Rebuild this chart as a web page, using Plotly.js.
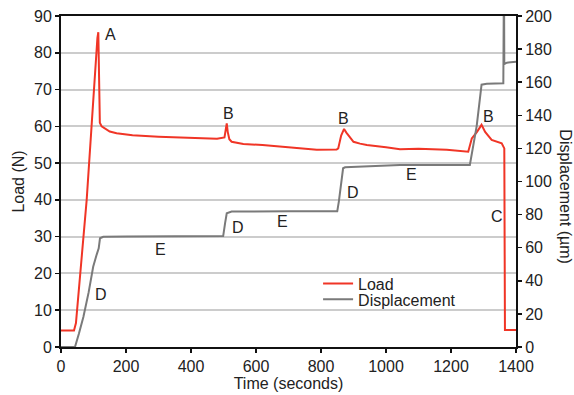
<!DOCTYPE html>
<html>
<head>
<meta charset="utf-8">
<script src="https://cdn.plot.ly/plotly-3.0.1.min.js"></script>
<style>html,body{margin:0;padding:0;background:#fff;}#chart{width:574px;height:395px;}</style>
</head>
<body>
<div id="chart"></div>
<script>
// Load (N) vs time (s)
var loadTime = [0, 40, 46, 79, 94, 101.5, 107.7, 112, 114.8, 117, 119.5, 125, 135, 150, 171, 220, 300, 400, 480, 503, 507, 510, 513, 518, 525, 561, 620, 674, 730, 787, 848, 853, 862, 871, 878, 890, 900, 920, 941, 1000, 1043, 1100, 1187, 1253, 1264, 1280, 1294, 1305, 1325, 1356, 1364, 1366, 1400];
var loadVal  = [4.5, 4.5, 6.5, 40, 60, 70, 80, 84, 85.6, 75, 61, 60, 59.4, 58.6, 58.1, 57.6, 57.2, 56.8, 56.6, 57.0, 59, 60.8, 58.5, 56.5, 55.8, 55.2, 54.9, 54.5, 54.1, 53.6, 53.7, 54.0, 57.5, 59.3, 58.3, 57, 55.8, 55.3, 54.9, 54.3, 53.8, 53.9, 53.6, 53.1, 56.7, 58.5, 60.4, 58.5, 56.3, 55.4, 54, 4.6, 4.6];

// Displacement (µm) vs time (s)
var dispTime = [0, 43, 55, 69, 85, 99, 110, 116, 120, 130, 200, 300, 400, 499, 505, 510, 525, 600, 700, 800, 850, 855, 862, 868, 874, 950, 1043, 1150, 1258, 1279, 1294, 1310, 1361, 1363, 1364, 1372, 1400];
var dispVal  = [0, 0, 8, 18.3, 33, 48.5, 56, 59.6, 65.7, 66.6, 66.8, 66.8, 67, 67, 75, 80.8, 81.8, 82, 82, 82, 82, 88, 99, 108, 108.6, 109.2, 110, 110, 110, 133.5, 158.5, 159, 159.3, 230, 171, 171.8, 172.4];

// Annotation labels
var labelText = ["A", "B", "B", "B", "C", "D", "E", "D", "E", "D", "E"];
var labelX    = [151, 514, 868, 1314, 1342, 123, 305, 545, 680, 898, 1077];
var labelY    = [85.1, 63.6, 62, 62.8, 35.6, 14.4, 26.4, 32.6, 34, 42.1, 46.8];

var FAM = "Liberation Sans, Arial, sans-serif";
var font = {family: FAM, size: 16, color: "#222"};

var traces = [
  {x: loadTime, y: loadVal, name: "Load", type: "scatter", mode: "lines",
   line: {color: "#f03526", width: 2}, yaxis: "y", legend: "legend"},
  {x: dispTime, y: dispVal, name: "Displacement", type: "scatter", mode: "lines",
   line: {color: "#7a7a7a", width: 2}, yaxis: "y2", legend: "legend2"}
];

var annotations = labelText.map(function (t, i) {
  return {x: labelX[i], y: labelY[i], xref: "x", yref: "y", text: t, showarrow: false,
          font: font};
});
annotations.push({x: 1.11, y: 0.455, xref: "paper", yref: "paper", xanchor: "center", yanchor: "middle",
  text: "Displacement (µm)", textangle: 90, showarrow: false, font: font});

var legendBase = {xanchor: "left", yanchor: "top", bgcolor: "rgba(0,0,0,0)",
                  itemwidth: 30, font: font};

var layout = {
  width: 574, height: 395,
  margin: {l: 61, r: 58, t: 16, b: 48},
  paper_bgcolor: "#fff", plot_bgcolor: "#fff",
  font: font,
  showlegend: true,
  legend: Object.assign({x: 0.565, y: 0.243}, legendBase),
  legend2: Object.assign({x: 0.565, y: 0.195}, legendBase),
  xaxis: {range: [0, 1400], tickvals: [0, 200, 400, 600, 800, 1000, 1200, 1400],
          showgrid: false, zeroline: false, showline: true, linecolor: "#111", linewidth: 2,
          mirror: true, ticks: "outside", ticklen: 4, tickwidth: 1.5, tickcolor: "#111",
          title: {text: "Time (seconds)", standoff: 4, font: font},
          tickfont: font},
  yaxis: {range: [0, 90], tickvals: [0, 10, 20, 30, 40, 50, 60, 70, 80, 90],
          showgrid: true, gridcolor: "#cccccc", gridwidth: 2, zeroline: false,
          showline: true, linecolor: "#111", linewidth: 2,
          ticks: "outside", ticklen: 4, tickwidth: 1.5, tickcolor: "#111",
          title: {text: "Load (N)", standoff: 5, font: font},
          tickfont: font},
  yaxis2: {range: [0, 200], tickvals: [0, 20, 40, 60, 80, 100, 120, 140, 160, 180, 200],
           overlaying: "y", side: "right", showgrid: false, zeroline: false,
           showline: true, linecolor: "#111", linewidth: 2,
           ticks: "outside", ticklen: 4, tickwidth: 1.5, tickcolor: "#111",
           tickfont: font},
  annotations: annotations
};

Plotly.newPlot("chart", traces, layout, {displayModeBar: false, staticPlot: true});
</script>
</body>
</html>
